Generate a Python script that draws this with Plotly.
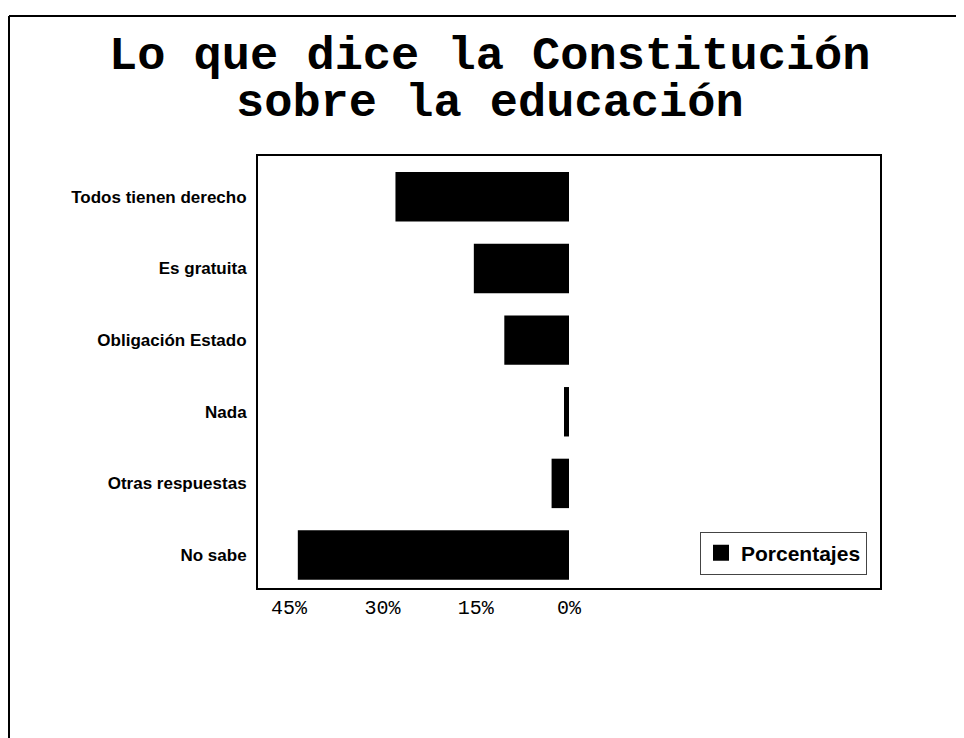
import plotly.graph_objects as go

categorias = ['Todos tienen derecho', 'Es gratuita', 'Obligación Estado',
              'Nada', 'Otras respuestas', 'No sabe']
porcentajes = [27.9, 15.3, 10.4, 0.8, 2.8, 43.6]
ticks = [45, 30, 15, 0]
tick_labels = ['45%', '30%', '15%', '0%']
titulo = ['Lo que dice la Constitución', 'sobre la educación']

MONO = 'Liberation Mono, Courier New, monospace'
SANS = 'Liberation Sans, Arial, sans-serif'

# the page body has an 8px margin, so the figure starts at (8, 8)
OFF = 8
W, H = 964 - OFF, 738 - OFF
L, T = 258 - OFF, 156 - OFF
R, B = 964 - 880, 738 - 588
pw, ph = W - L - R, H - T - B


def px_x(x):
    # page pixel -> paper x
    return (x - OFF - L) / pw


def px_y(y):
    # page pixel -> paper y
    return (H - B - (y - OFF)) / ph


fig = go.Figure()
fig.add_trace(go.Bar(
    x=porcentajes,
    y=categorias,
    orientation='h',
    name='Porcentajes',
    showlegend=False,
    marker=dict(color='black', line=dict(color='black', width=0)),
))
# legend entry with a bigger square, like the original
fig.add_trace(go.Scatter(
    x=[None], y=[None], mode='markers', name='Porcentajes',
    marker=dict(symbol='square', size=21, color='black'),
))

fig.update_layout(
    width=W, height=H,
    margin=dict(l=L, r=R, t=T, b=B),
    paper_bgcolor='white',
    plot_bgcolor='white',
    bargap=0.31,
    showlegend=True,
    legend=dict(
        x=px_x(700), y=px_y(553), xanchor='left', yanchor='middle',
        bordercolor='#444444', borderwidth=1, bgcolor='white',
        font=dict(family=SANS, size=21, color='black', weight='bold'),
        itemwidth=30,
    ),
    xaxis=dict(
        range=[50, -50],
        tickvals=ticks,
        ticktext=tick_labels,
        showgrid=False, zeroline=False,
        showline=True, linecolor='black', linewidth=2, mirror=True,
        ticks='',
        tickfont=dict(family=MONO, size=20, color='black'),
    ),
    yaxis=dict(
        categoryorder='array', categoryarray=categorias[::-1],
        range=[-0.46, 5.57],
        showgrid=False, zeroline=False,
        showline=True, linecolor='black', linewidth=2, mirror=True,
        ticks='', ticklabelstandoff=6,
        tickfont=dict(family=SANS, size=17, color='black', weight='bold'),
    ),
)

for texto, yc in zip(titulo, [56, 104]):
    fig.add_annotation(
        text=texto, xref='paper', yref='paper',
        x=px_x(490), y=px_y(yc), xanchor='center', yanchor='middle',
        showarrow=False,
        font=dict(family=MONO, size=47, color='black', weight='bold'),
    )

# frame of the scanned page
fig.add_shape(type='line', xref='paper', yref='paper',
              x0=px_x(9), x1=px_x(964), y0=px_y(16), y1=px_y(16),
              line=dict(color='black', width=2))
fig.add_shape(type='line', xref='paper', yref='paper',
              x0=px_x(9), x1=px_x(9), y0=px_y(16), y1=px_y(738),
              line=dict(color='black', width=2))

fig.write_html('out.html')
